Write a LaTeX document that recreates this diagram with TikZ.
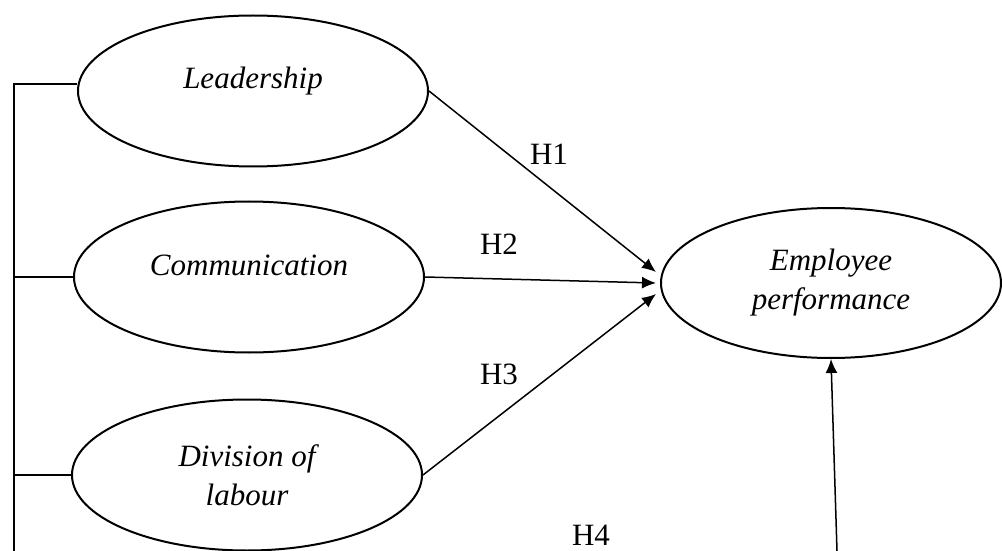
\documentclass[tikz,border=0pt]{standalone}
\usepackage{fontspec}
\setmainfont{Liberation Serif}
\usetikzlibrary{shapes,arrows.meta}
\usetikzlibrary{positioning}
\tikzset{>={Latex[length=7pt,width=6pt]}, font=\fontsize{15.5}{19.5}\selectfont}
\tikzstyle{latent} = [draw, ellipse, line width=1pt, minimum width=175pt, minimum height=75.5pt, inner sep=0pt, align=center, font=\fontsize{15.5}{19.5}\selectfont\itshape]
\tikzstyle{raised} = [text height=11pt, text depth=13pt]
\tikzstyle{link} = [line width=0.75pt]
\tikzstyle{hyp} = [inner sep=0pt]
\tikzstyle{corner} = [coordinate]

\begin{document}
\begin{tikzpicture}[x=0.5pt, y=-0.5pt]
		\useasboundingbox (0,0) rectangle (1002,551);

		\node [latent, raised] at (253,91) (lead) {Leadership};
		\node [latent, raised, below=16.5pt of lead, xshift=-2pt] (comm) {Communication};
		\node [latent, below=22.5pt of comm, xshift=-1pt] (div) {Division of\\labour};

		\node [latent, minimum width=170pt, minimum height=75pt] at (831,283) (emp) {Employee\\performance};

		\node [hyp] at (549,154) (h1) {H1};
		\node [hyp] at (499,244) (h2) {H2};
		\node [hyp] at (499,374) (h3) {H3};
		\node [hyp] at (591,535) (h4) {H4};

		\coordinate (b_top) at (14,84);
		\coordinate (b_end) at (14,551);
		\coordinate (emp_in) at (837,551);

		\draw [link, ->] (lead.east) -- ([xshift=-2pt, yshift=5.5pt]emp.west);
		\draw [link, ->] (comm.east) -- ([xshift=-2pt]emp.west);
		\draw [link, ->] (div.east) -- ([xshift=-2pt, yshift=-5.5pt]emp.west);

		\draw [link] ([yshift=3.5pt]lead.west) -- (b_top) -- (b_end);
		\draw [link] (comm.west) -- (comm.west -| b_top);
		\draw [link] (div.west) -- (div.west -| b_top);

		\draw [link, ->] (emp_in) -- (emp.south);

	\end{tikzpicture}
\end{document}
